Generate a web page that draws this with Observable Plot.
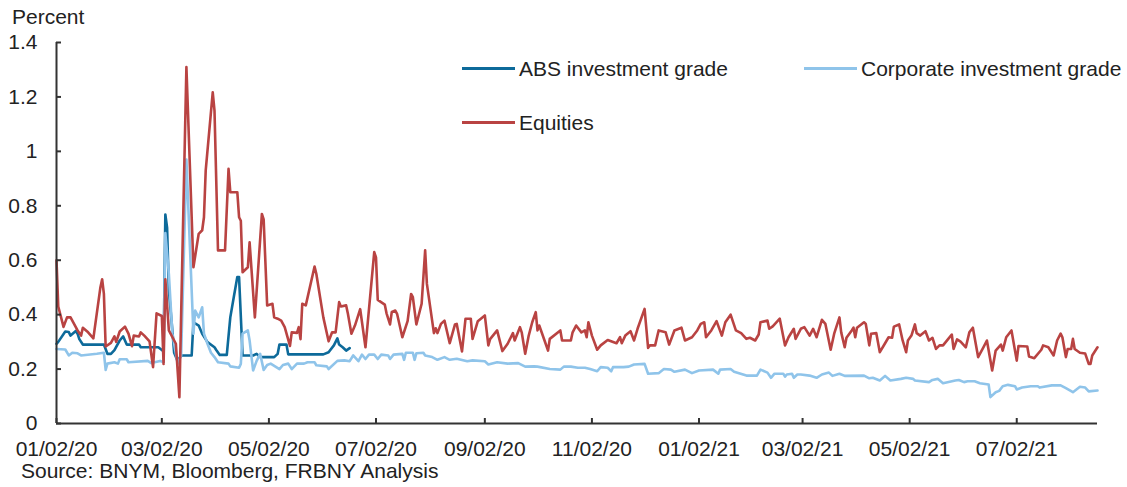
<!DOCTYPE html>
<html><head><meta charset="utf-8">
<script src="https://cdn.jsdelivr.net/npm/d3@7"></script>
<script src="https://cdn.jsdelivr.net/npm/@observablehq/plot@0.6"></script>
<style>
html,body{margin:0;padding:0;background:#fff;overflow:hidden;}
#wrap{position:relative;width:1127px;height:487px;font-family:"Liberation Sans",Arial,sans-serif;color:#222;}
#wrap svg{position:absolute;left:0;top:0;}
.txt{position:absolute;font-size:21px;line-height:21px;white-space:nowrap;}
.leg{position:absolute;display:flex;align-items:center;font-size:21px;line-height:21px;white-space:nowrap;}
.sw{display:inline-block;width:53px;height:3px;margin-right:4px;}
</style></head>
<body><div id="wrap"></div>
<script>
// ---- Data ----
const seriesNames = ["ABS investment grade", "Corporate investment grade", "Equities"];
const seriesColors = ["#0d6a9a", "#8fc4ea", "#b94342"];
const yTicks = [0, 0.2, 0.4, 0.6, 0.8, 1, 1.2, 1.4];
const xTickLabels = ["01/02/20","03/02/20","05/02/20","07/02/20","09/02/20","11/02/20","01/02/21","03/02/21","05/02/21","07/02/21"];
const xDomainDates = ["2020-01-02", "2021-08-17"];
const titleText = "Percent";
const sourceText = "Source: BNYM, Bloomberg, FRBNY Analysis";

const absIG = [
["2020-01-02",0.293],["2020-01-03",0.30],["2020-01-07",0.338],["2020-01-09",0.336],["2020-01-10",0.323],
["2020-01-13",0.34],["2020-01-14",0.33],["2020-01-15",0.31],["2020-01-17",0.29],["2020-01-29",0.29],
["2020-01-31",0.256],["2020-02-02",0.256],["2020-02-04",0.27],["2020-02-07",0.305],["2020-02-09",0.32],
["2020-02-11",0.29],["2020-02-18",0.29],["2020-02-19",0.28],["2020-02-29",0.28],["2020-03-02",0.27],
["2020-03-03",0.265],["2020-03-04",0.768],["2020-03-05",0.72],["2020-03-06",0.49],["2020-03-08",0.342],
["2020-03-09",0.26],["2020-03-11",0.23],["2020-03-13",0.25],["2020-03-19",0.25],["2020-03-20",0.372],
["2020-03-23",0.36],["2020-03-25",0.33],["2020-03-28",0.299],["2020-04-01",0.28],["2020-04-02",0.27],
["2020-04-04",0.252],["2020-04-08",0.252],["2020-04-10",0.39],["2020-04-12",0.465],["2020-04-14",0.538],
["2020-04-15",0.538],["2020-04-17",0.25],["2020-04-23",0.25],["2020-04-25",0.256],["2020-04-27",0.244],
["2020-05-05",0.244],["2020-05-07",0.256],["2020-05-08",0.29],["2020-05-12",0.29],["2020-05-13",0.254],
["2020-06-02",0.254],["2020-06-05",0.262],["2020-06-08",0.287],["2020-06-10",0.313],["2020-06-11",0.29],
["2020-06-13",0.28],["2020-06-15",0.268],["2020-06-17",0.277]
];

const corporateIG = [
["2020-01-02",0.274],["2020-01-07",0.272],["2020-01-09",0.25],["2020-01-11",0.26],["2020-01-14",0.258],
["2020-01-16",0.25],["2020-01-25",0.256],["2020-01-29",0.26],["2020-01-30",0.197],["2020-01-31",0.22],
["2020-02-04",0.225],["2020-02-06",0.22],["2020-02-07",0.236],["2020-02-11",0.236],["2020-02-12",0.225],
["2020-02-23",0.23],["2020-02-25",0.222],["2020-03-01",0.23],["2020-03-03",0.225],["2020-03-04",0.70],
["2020-03-06",0.55],["2020-03-08",0.33],["2020-03-11",0.22],["2020-03-13",0.25],["2020-03-16",0.97],
["2020-03-20",0.33],["2020-03-21",0.415],["2020-03-23",0.39],["2020-03-25",0.427],["2020-03-26",0.33],
["2020-03-28",0.293],["2020-03-30",0.26],["2020-04-01",0.244],["2020-04-03",0.225],["2020-04-09",0.22],
["2020-04-10",0.21],["2020-04-15",0.205],["2020-04-16",0.219],["2020-04-17",0.33],["2020-04-20",0.342],
["2020-04-21",0.305],["2020-04-23",0.195],["2020-04-25",0.23],["2020-04-27",0.256],["2020-04-29",0.197],
["2020-05-01",0.215],["2020-05-03",0.22],["2020-05-08",0.2],["2020-05-10",0.215],["2020-05-13",0.22],
["2020-05-15",0.2],["2020-05-18",0.22],["2020-05-22",0.22],["2020-05-24",0.225],["2020-05-28",0.225],
["2020-05-29",0.214],["2020-06-04",0.21],["2020-06-05",0.2],["2020-06-10",0.23],["2020-06-14",0.232],
["2020-06-17",0.229],["2020-06-19",0.25],["2020-06-22",0.229],["2020-06-24",0.253],["2020-06-26",0.237],
["2020-06-28",0.253],["2020-07-01",0.253],["2020-07-03",0.237],["2020-07-05",0.253],["2020-07-09",0.25],
["2020-07-10",0.237],["2020-07-12",0.253],["2020-07-17",0.256],["2020-07-18",0.234],["2020-07-19",0.26],
["2020-07-23",0.26],["2020-07-24",0.234],["2020-07-25",0.258],["2020-07-29",0.26],["2020-07-30",0.25],
["2020-08-03",0.244],["2020-08-06",0.234],["2020-08-10",0.244],["2020-08-13",0.234],["2020-08-17",0.238],
["2020-08-23",0.229],["2020-08-26",0.232],["2020-09-02",0.229],["2020-09-04",0.217],["2020-09-09",0.225],
["2020-09-15",0.22],["2020-09-21",0.222],["2020-09-25",0.209],["2020-09-30",0.21],["2020-10-02",0.209],
["2020-10-09",0.2],["2020-10-15",0.198],["2020-10-17",0.209],["2020-10-21",0.209],["2020-10-25",0.205],
["2020-10-29",0.205],["2020-11-01",0.2],["2020-11-05",0.192],["2020-11-07",0.207],["2020-11-11",0.205],
["2020-11-13",0.192],["2020-11-14",0.207],["2020-11-20",0.207],["2020-11-23",0.209],["2020-11-26",0.217],
["2020-12-02",0.219],["2020-12-04",0.183],["2020-12-10",0.185],["2020-12-13",0.2],["2020-12-17",0.198],
["2020-12-19",0.19],["2020-12-25",0.198],["2020-12-29",0.185],["2021-01-02",0.195],["2021-01-10",0.198],
["2021-01-13",0.183],["2021-01-14",0.198],["2021-01-20",0.2],["2021-01-22",0.19],["2021-01-29",0.176],
["2021-02-04",0.176],["2021-02-06",0.198],["2021-02-10",0.187],["2021-02-12",0.168],["2021-02-14",0.183],
["2021-02-19",0.183],["2021-02-20",0.172],["2021-02-21",0.18],["2021-02-24",0.183],["2021-02-25",0.168],
["2021-02-27",0.18],["2021-03-01",0.18],["2021-03-06",0.176],["2021-03-10",0.168],["2021-03-13",0.18],
["2021-03-17",0.187],["2021-03-19",0.175],["2021-03-23",0.183],["2021-03-26",0.175],["2021-04-06",0.176],
["2021-04-09",0.166],["2021-04-11",0.168],["2021-04-15",0.158],["2021-04-18",0.175],["2021-04-21",0.158],
["2021-04-27",0.164],["2021-04-30",0.168],["2021-05-04",0.164],["2021-05-05",0.158],["2021-05-13",0.152],
["2021-05-15",0.16],["2021-05-18",0.164],["2021-05-21",0.148],["2021-05-28",0.158],["2021-05-30",0.16],
["2021-06-02",0.152],["2021-06-04",0.155],["2021-06-08",0.155],["2021-06-11",0.148],["2021-06-16",0.143],
["2021-06-17",0.097],["2021-06-20",0.115],["2021-06-22",0.12],["2021-06-24",0.137],["2021-06-27",0.142],
["2021-07-01",0.137],["2021-07-02",0.125],["2021-07-05",0.132],["2021-07-10",0.137],["2021-07-14",0.137],
["2021-07-15",0.132],["2021-07-22",0.14],["2021-07-27",0.14],["2021-07-30",0.13],["2021-08-03",0.115],
["2021-08-07",0.135],["2021-08-10",0.132],["2021-08-12",0.118],["2021-08-17",0.121]
];

const equities = [
["2020-01-02",0.60],["2020-01-03",0.43],["2020-01-06",0.355],["2020-01-08",0.39],["2020-01-10",0.39],
["2020-01-14",0.342],["2020-01-16",0.323],["2020-01-17",0.352],["2020-01-20",0.335],["2020-01-23",0.313],
["2020-01-27",0.50],["2020-01-28",0.53],["2020-01-29",0.476],["2020-01-30",0.283],["2020-02-02",0.296],
["2020-02-04",0.32],["2020-02-05",0.30],["2020-02-07",0.338],["2020-02-10",0.356],["2020-02-12",0.33],
["2020-02-14",0.284],["2020-02-15",0.323],["2020-02-18",0.32],["2020-02-19",0.335],["2020-02-21",0.323],
["2020-02-24",0.302],["2020-02-26",0.207],["2020-02-28",0.405],["2020-03-02",0.395],["2020-03-03",0.219],
["2020-03-04",0.53],["2020-03-06",0.342],["2020-03-10",0.293],["2020-03-12",0.097],["2020-03-16",1.31],
["2020-03-20",0.574],["2020-03-23",0.697],["2020-03-25",0.71],["2020-03-26",0.758],["2020-03-27",0.93],
["2020-03-31",1.217],["2020-04-01",1.15],["2020-04-03",0.636],["2020-04-07",0.636],["2020-04-09",0.936],
["2020-04-10",0.85],["2020-04-14",0.85],["2020-04-15",0.758],["2020-04-16",0.745],["2020-04-17",0.556],
["2020-04-20",0.574],["2020-04-21",0.666],["2020-04-24",0.39],["2020-04-28",0.77],["2020-04-29",0.75],
["2020-05-01",0.434],["2020-05-04",0.44],["2020-05-05",0.39],["2020-05-07",0.385],["2020-05-09",0.378],
["2020-05-11",0.354],["2020-05-14",0.285],["2020-05-15",0.335],["2020-05-18",0.333],["2020-05-19",0.354],
["2020-05-20",0.31],["2020-05-21",0.44],["2020-05-23",0.434],["2020-05-28",0.577],["2020-05-29",0.55],
["2020-06-02",0.39],["2020-06-05",0.302],["2020-06-07",0.335],["2020-06-09",0.335],["2020-06-11",0.446],
["2020-06-12",0.43],["2020-06-15",0.434],["2020-06-16",0.403],["2020-06-18",0.33],["2020-06-20",0.36],
["2020-06-23",0.42],["2020-06-26",0.28],["2020-07-01",0.63],["2020-07-02",0.61],["2020-07-03",0.454],
["2020-07-07",0.437],["2020-07-08",0.405],["2020-07-10",0.364],["2020-07-11",0.41],["2020-07-13",0.415],
["2020-07-14",0.403],["2020-07-17",0.317],["2020-07-20",0.376],["2020-07-22",0.476],["2020-07-23",0.464],
["2020-07-25",0.364],["2020-07-28",0.44],["2020-07-30",0.636],["2020-07-31",0.513],["2020-08-04",0.332],
["2020-08-05",0.35],["2020-08-06",0.332],["2020-08-08",0.366],["2020-08-10",0.378],["2020-08-13",0.295],
["2020-08-16",0.364],["2020-08-17",0.366],["2020-08-20",0.265],["2020-08-22",0.385],["2020-08-25",0.385],
["2020-08-26",0.311],["2020-08-29",0.376],["2020-09-02",0.397],["2020-09-04",0.287],["2020-09-05",0.31],
["2020-09-09",0.342],["2020-09-12",0.266],["2020-09-15",0.293],["2020-09-18",0.332],["2020-09-19",0.305],
["2020-09-22",0.354],["2020-09-23",0.335],["2020-09-25",0.256],["2020-09-27",0.323],["2020-09-29",0.372],
["2020-10-01",0.409],["2020-10-02",0.342],["2020-10-03",0.36],["2020-10-06",0.305],["2020-10-08",0.268],
["2020-10-09",0.311],["2020-10-15",0.342],["2020-10-16",0.305],["2020-10-21",0.305],["2020-10-22",0.335],
["2020-10-24",0.36],["2020-10-27",0.335],["2020-10-29",0.342],["2020-10-30",0.317],["2020-10-31",0.372],
["2020-11-02",0.323],["2020-11-05",0.271],["2020-11-07",0.287],["2020-11-11",0.307],["2020-11-16",0.295],
["2020-11-18",0.317],["2020-11-19",0.295],["2020-11-21",0.323],["2020-11-24",0.339],["2020-11-26",0.305],
["2020-11-28",0.348],["2020-12-02",0.421],["2020-12-04",0.278],["2020-12-05",0.287],["2020-12-08",0.287],
["2020-12-10",0.342],["2020-12-14",0.335],["2020-12-16",0.29],["2020-12-19",0.342],["2020-12-23",0.352],
["2020-12-25",0.305],["2020-12-29",0.317],["2021-01-01",0.342],["2021-01-03",0.366],["2021-01-05",0.372],
["2021-01-06",0.317],["2021-01-09",0.342],["2021-01-12",0.376],["2021-01-15",0.323],["2021-01-17",0.372],
["2021-01-20",0.40],["2021-01-23",0.342],["2021-01-26",0.332],["2021-01-29",0.311],["2021-01-31",0.315],
["2021-02-03",0.305],["2021-02-05",0.327],["2021-02-06",0.372],["2021-02-10",0.378],["2021-02-11",0.348],
["2021-02-13",0.357],["2021-02-17",0.385],["2021-02-20",0.287],["2021-02-22",0.317],["2021-02-25",0.348],
["2021-02-26",0.311],["2021-03-01",0.348],["2021-03-03",0.354],["2021-03-06",0.323],["2021-03-08",0.348],
["2021-03-10",0.317],["2021-03-13",0.381],["2021-03-15",0.366],["2021-03-18",0.271],["2021-03-20",0.33],
["2021-03-23",0.39],["2021-03-24",0.335],["2021-03-26",0.28],["2021-03-27",0.315],["2021-03-30",0.342],
["2021-03-31",0.352],["2021-04-01",0.317],["2021-04-02",0.352],["2021-04-06",0.372],["2021-04-07",0.366],
["2021-04-09",0.287],["2021-04-10",0.33],["2021-04-13",0.332],["2021-04-15",0.262],["2021-04-18",0.295],
["2021-04-20",0.317],["2021-04-22",0.315],["2021-04-23",0.356],["2021-04-26",0.364],["2021-04-28",0.305],
["2021-04-30",0.262],["2021-05-01",0.305],["2021-05-03",0.323],["2021-05-05",0.364],["2021-05-06",0.332],
["2021-05-08",0.323],["2021-05-11",0.339],["2021-05-13",0.305],["2021-05-15",0.315],["2021-05-17",0.274],
["2021-05-19",0.287],["2021-05-21",0.287],["2021-05-24",0.311],["2021-05-26",0.327],["2021-05-27",0.274],
["2021-05-29",0.309],["2021-05-31",0.301],["2021-06-03",0.28],["2021-06-05",0.335],["2021-06-07",0.352],
["2021-06-10",0.244],["2021-06-13",0.28],["2021-06-15",0.305],["2021-06-18",0.195],["2021-06-20",0.268],
["2021-06-23",0.29],["2021-06-24",0.268],["2021-06-26",0.317],["2021-06-29",0.342],["2021-07-02",0.231],
["2021-07-03",0.285],["2021-07-08",0.283],["2021-07-09",0.246],["2021-07-12",0.24],["2021-07-16",0.271],
["2021-07-17",0.287],["2021-07-20",0.28],["2021-07-23",0.25],["2021-07-25",0.305],["2021-07-27",0.33],
["2021-07-28",0.317],["2021-07-30",0.244],["2021-07-31",0.274],["2021-08-02",0.274],["2021-08-03",0.311],
["2021-08-04",0.274],["2021-08-07",0.26],["2021-08-10",0.257],["2021-08-12",0.219],["2021-08-13",0.219],
["2021-08-14",0.25],["2021-08-17",0.28]
];

// ---- Build ----
const parse = d3.utcParse("%Y-%m-%d");
const parseTick = d3.utcParse("%m/%d/%y");
const toRows = arr => arr.map(([d, v]) => ({date: parse(d), value: v}));
const xTicks = xTickLabels.map(parseTick);
const xDomain = xDomainDates.map(parse);
const seriesData = [absIG, corporateIG, equities];
const axisColor = "#333";

const chart = Plot.plot({
  width: 1127, height: 487,
  marginLeft: 56, marginRight: 30, marginTop: 42, marginBottom: 64,
  style: {fontFamily: "'Liberation Sans', Arial, sans-serif", fontSize: "21px", color: "#222", background: "transparent", overflow: "visible"},
  x: {type: "utc", domain: xDomain},
  y: {domain: [0, 1.4]},
  marks: [
    ...seriesData.map((s, i) => Plot.line(toRows(s), {x: "date", y: "value", stroke: seriesColors[i], strokeWidth: 2.6, strokeLinejoin: "round"})),
    Plot.ruleY([0], {stroke: axisColor, strokeWidth: 2}),
    Plot.ruleX([xDomain[0]], {stroke: axisColor, strokeWidth: 2}),
    Plot.axisY({ticks: yTicks, tickSize: 5, dx: 5, fill: "none", stroke: axisColor, strokeWidth: 2, label: null}),
    Plot.axisY({ticks: yTicks, tickSize: 0, tickPadding: 19, stroke: "none", fill: "#222", tickFormat: d => String(d), label: null}),
    Plot.axisX({ticks: xTicks, tickSize: 5, dy: -5, fill: "none", stroke: axisColor, strokeWidth: 2, label: null}),
    Plot.axisX({ticks: xTicks, tickSize: 0, tickPadding: 18, stroke: "none", fill: "#222", tickFormat: d3.utcFormat("%m/%d/%y"), label: null})
  ]
});

const wrap = document.getElementById("wrap");
wrap.appendChild(chart);

function addText(txt, left, top) {
  const el = document.createElement("div");
  el.className = "txt";
  el.style.left = left + "px";
  el.style.top = top + "px";
  el.textContent = txt;
  wrap.appendChild(el);
}
addText(titleText, 12, 6);
addText(sourceText, 21, 460);

const legendPos = [[462, 58], [804, 58], [462, 112]];
seriesNames.forEach((name, i) => {
  const el = document.createElement("div");
  el.className = "leg";
  el.style.left = legendPos[i][0] + "px";
  el.style.top = legendPos[i][1] + "px";
  const sw = document.createElement("span");
  sw.className = "sw";
  sw.style.background = seriesColors[i];
  const t = document.createElement("span");
  t.textContent = name;
  el.appendChild(sw); el.appendChild(t);
  wrap.appendChild(el);
});
</script></body></html>
